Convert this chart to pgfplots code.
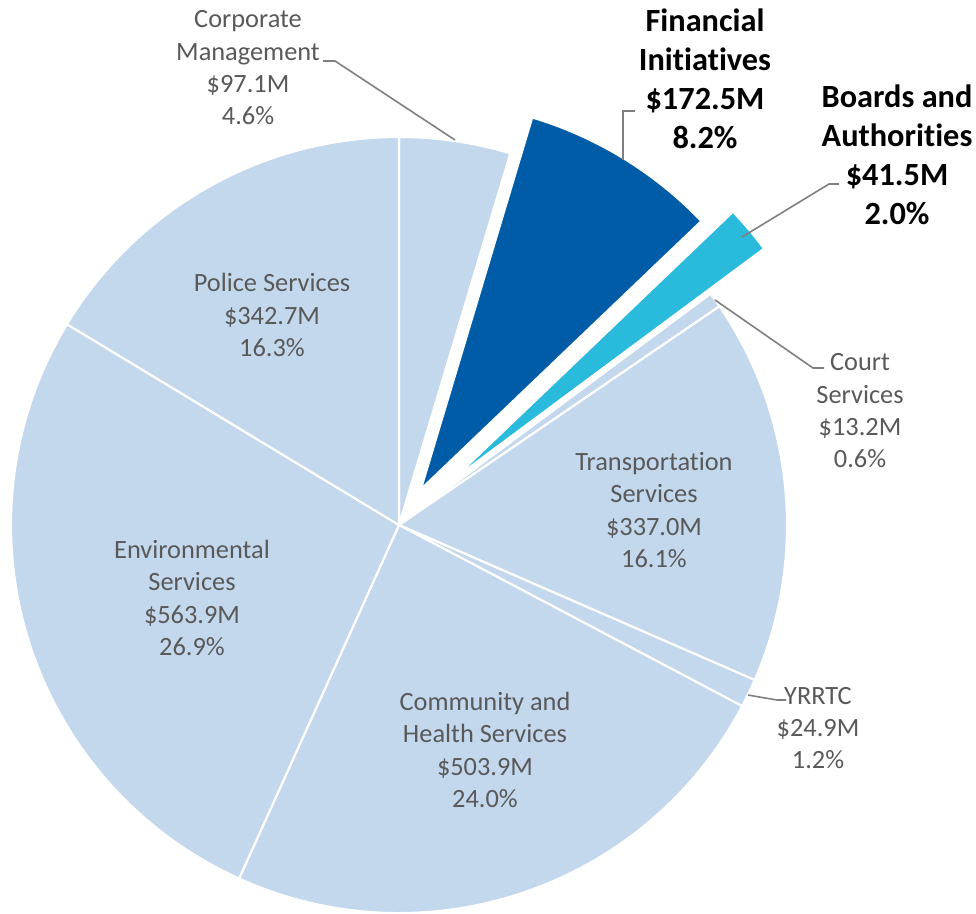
\documentclass[border=0pt]{standalone}
\usepackage{pgfplots}
\pgfplotsset{compat=1.18}
\usepackage{fontspec}
\setmainfont{Carlito}[Ligatures=NoCommon]
\definecolor{lightsl}{HTML}{C3D8EC}
\definecolor{darksl}{HTML}{005CA7}
\definecolor{cyansl}{HTML}{29BADC}
\definecolor{labgray}{HTML}{595959}
\definecolor{leadgray}{HTML}{7F7F7F}

% budget in $M, clockwise from 12 o'clock
\def\total{2096.7}
\pgfmathsetmacro\angA{90}
\foreach \v [count=\i] in {97.1,172.5,41.5,13.2,337.0,24.9,503.9,563.9,342.7} {
  \pgfmathsetmacro\angB{\angA - \v/\total*360}
  \expandafter\xdef\csname s\i\endcsname{\angA}
  \expandafter\xdef\csname e\i\endcsname{\angB}
  \xdef\angA{\angB}
}

% index, colour, explode distance (axis units = cm)
\newcommand\slice[3]{%
  \pgfplotsextra{%
    \pgfmathsetmacro\sa{\csname s#1\endcsname}%
    \pgfmathsetmacro\sb{\csname e#1\endcsname}%
    \pgfmathsetmacro\sm{(\sa+\sb)/2}%
    \pgfmathsetmacro\ox{#3*cos(\sm)}%
    \pgfmathsetmacro\oy{#3*sin(\sm)}%
    \fill[#2, draw=white, line width=0.6pt, line join=round]
      (axis cs:\ox,\oy) -- ++(\sa:3.88cm)
      arc[start angle=\sa, end angle=\sb, radius=3.88cm] -- cycle;
  }}

\begin{document}
\begin{tikzpicture}[
  normal/.style={align=center, text=labgray, font=\fontsize{7.5}{9.2}\selectfont},
  bold/.style={align=center, text=black, font=\fontsize{9.2}{11.1}\selectfont\bfseries},
  leader/.style={leadgray, line width=0.45pt},
]
\begin{axis}[
  x=1cm, y=1cm,
  xmin=-3.99, xmax=5.77, ymin=-3.88, ymax=5.25,
  hide axis, clip=false,
]
\slice{1}{lightsl}{0}
\slice{2}{darksl}{0.42}
\slice{3}{cyansl}{0.70}
\slice{4}{lightsl}{0}
\slice{5}{lightsl}{0}
\slice{6}{lightsl}{0}
\slice{7}{lightsl}{0}
\slice{8}{lightsl}{0}
\slice{9}{lightsl}{0}

\addplot[leader, no marks] coordinates {(-0.76,4.64) (-0.64,4.64) (0.56,3.85)};
\addplot[leader, no marks] coordinates {(2.24,3.65) (2.24,4.14) (2.36,4.14)};
\addplot[leader, no marks] coordinates {(3.43,2.88) (4.30,3.41) (4.40,3.41)};
\addplot[leader, no marks] coordinates {(3.16,2.25) (4.14,1.57) (4.25,1.57)};
\addplot[leader, no marks] coordinates {(3.49,-1.70) (3.78,-1.75) (3.87,-1.75)};

\node[normal] at (axis cs:-1.51,4.57) {Corporate\\Management\\\$97.1M\\4.6\%};
\node[bold] at (axis cs:3.06,4.46) {Financial\\Initiatives\\\$172.5M\\8.2\%};
\node[bold] at (axis cs:4.98,3.70) {Boards and\\Authorities\\\$41.5M\\2.0\%};
\node[normal] at (axis cs:4.61,1.14) {Court\\Services\\\$13.2M\\0.6\%};
\node[normal] at (axis cs:2.55,0.15) {Transportation\\Services\\\$337.0M\\16.1\%};
\node[normal] at (axis cs:4.19,-2.03) {YRRTC\\\$24.9M\\1.2\%};
\node[normal] at (axis cs:0.86,-2.25) {Community and\\Health Services\\\$503.9M\\24.0\%};
\node[normal] at (axis cs:-2.07,-0.73) {Environmental\\Services\\\$563.9M\\26.9\%};
\node[normal] at (axis cs:-1.27,2.10) {Police Services\\\$342.7M\\16.3\%};
\end{axis}
\pgfresetboundingbox
\path (current axis.south west) rectangle (current axis.north east);
\end{tikzpicture}
\end{document}
